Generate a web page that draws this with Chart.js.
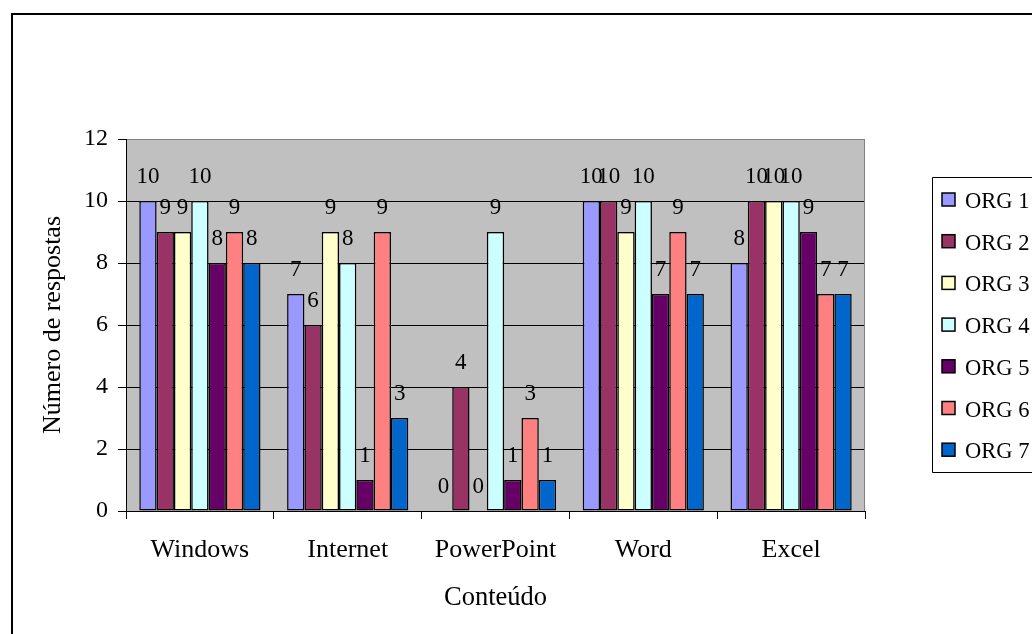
<!DOCTYPE html>
<html><head><meta charset="utf-8">
<script src="https://cdn.jsdelivr.net/npm/chart.js@4"></script>
<style>
html,body{margin:0;padding:0;background:#fff;overflow:hidden}
#wrap{position:relative;width:1032px;height:634px}
#frame{position:absolute;left:11px;top:13px;width:1100px;height:700px;border:2px solid #000;box-sizing:border-box}
canvas{position:absolute;left:0;top:0}
</style></head><body>
<div id="wrap"><div id="frame"></div><canvas id="c" width="1032" height="634"></canvas></div>
<script>
const categories = ['Windows', 'Internet', 'PowerPoint', 'Word', 'Excel'];
const seriesNames = ['ORG 1', 'ORG 2', 'ORG 3', 'ORG 4', 'ORG 5', 'ORG 6', 'ORG 7'];
const org1 = [10, 7, 0, 10, 8];
const org2 = [9, 6, 4, 10, 10];
const org3 = [9, 9, 0, 9, 10];
const org4 = [10, 8, 9, 10, 10];
const org5 = [8, 1, 1, 7, 9];
const org6 = [9, 9, 3, 9, 7];
const org7 = [8, 3, 1, 7, 7];
const seriesColors = ['#9999FF', '#993366', '#FFFFCC', '#CCFFFF', '#660066', '#FF8080', '#0066CC'];
const yTicks = [0, 2, 4, 6, 8, 10, 12];
const xTitle = 'Conteúdo';
const yTitle = 'Número de respostas';

const FONT = "'Liberation Serif', 'Times New Roman', serif";
const seriesValues = [org1, org2, org3, org4, org5, org6, org7];

const bgPlugin = {
  id: 'bg',
  beforeDraw(chart) {
    const {ctx, chartArea: a} = chart;
    ctx.save();
    ctx.fillStyle = '#C0C0C0';
    ctx.fillRect(a.left, a.top, a.right - a.left, a.bottom - a.top);
    ctx.restore();
  },
  afterDatasetsDraw(chart) {
    const {ctx, chartArea: a} = chart;
    ctx.save();
    ctx.strokeStyle = '#808080';
    ctx.lineWidth = 1;
    ctx.beginPath();
    ctx.moveTo(a.right - 0.5, a.top);
    ctx.lineTo(a.right - 0.5, a.bottom);
    ctx.stroke();
    // data labels
    ctx.fillStyle = '#000';
    ctx.font = '23px ' + FONT;
    ctx.textAlign = 'center';
    ctx.textBaseline = 'alphabetic';
    chart.data.datasets.forEach((ds, i) => {
      const meta = chart.getDatasetMeta(i);
      meta.data.forEach((bar, j) => {
        ctx.fillText(String(ds.data[j]), bar.x, bar.y - 18);
      });
    });
    // legend
    const lx = 932.5, ly = 177.5, lb = 472.5;
    ctx.strokeStyle = '#000';
    ctx.lineWidth = 1;
    ctx.beginPath();
    ctx.moveTo(1040, ly);
    ctx.lineTo(lx, ly);
    ctx.lineTo(lx, lb);
    ctx.lineTo(1040, lb);
    ctx.stroke();
    ctx.textAlign = 'left';
    ctx.font = '22.5px ' + FONT;
    chart.data.datasets.forEach((ds, i) => {
      const cy = 200 + i * 41.7;
      ctx.fillStyle = ds.backgroundColor;
      ctx.fillRect(942, cy - 7, 13, 13);
      ctx.lineWidth = 1.5;
      ctx.strokeStyle = '#000';
      ctx.strokeRect(942, cy - 7, 13, 13);
      ctx.fillStyle = '#000';
      ctx.fillText(ds.label, 965, cy + 8);
    });
    ctx.restore();
  }
};

new Chart(document.getElementById('c'), {
  type: 'bar',
  data: {
    labels: categories,
    datasets: seriesNames.map((n, i) => ({
      label: n,
      data: seriesValues[i],
      backgroundColor: seriesColors[i],
      borderColor: '#000',
      borderWidth: 1.5,
      borderSkipped: false,
      barPercentage: 1,
      categoryPercentage: 0.82
    }))
  },
  options: {
    responsive: false,
    animation: false,
    devicePixelRatio: 1,
    layout: {padding: {left: 0, top: 139, right: 167, bottom: 0}},
    plugins: {legend: {display: false}, tooltip: {enabled: false}, title: {display: false}},
    scales: {
      x: {
        grid: {display: true, drawOnChartArea: false, drawTicks: true, tickLength: 8, color: '#000', offset: true},
        border: {color: '#000', width: 1},
        ticks: {color: '#000', font: {family: FONT, size: 26}, padding: 16, maxRotation: 0, autoSkip: false},
        title: {display: true, text: xTitle, color: '#000', font: {family: FONT, size: 26.5}, padding: {top: 0, bottom: 20}},
        afterFit(s) { s.height = 123; }
      },
      y: {
        min: 0, max: 12,
        afterBuildTicks(s) { s.ticks = yTicks.map(v => ({value: v})); },
        grid: {color: ctx => ctx.tick && ctx.tick.value === 12 ? '#808080' : '#000', tickColor: '#000', tickLength: 8, lineWidth: 1},
        border: {color: '#000', width: 1},
        ticks: {color: '#000', font: {family: FONT, size: 24}, padding: 10},
        title: {display: true, text: yTitle, color: '#000', font: {family: FONT, size: 26}, padding: {top: 38, bottom: 0}},
        afterFit(s) { s.width = 126; }
      }
    }
  },
  plugins: [bgPlugin]
});
</script>
</body></html>
